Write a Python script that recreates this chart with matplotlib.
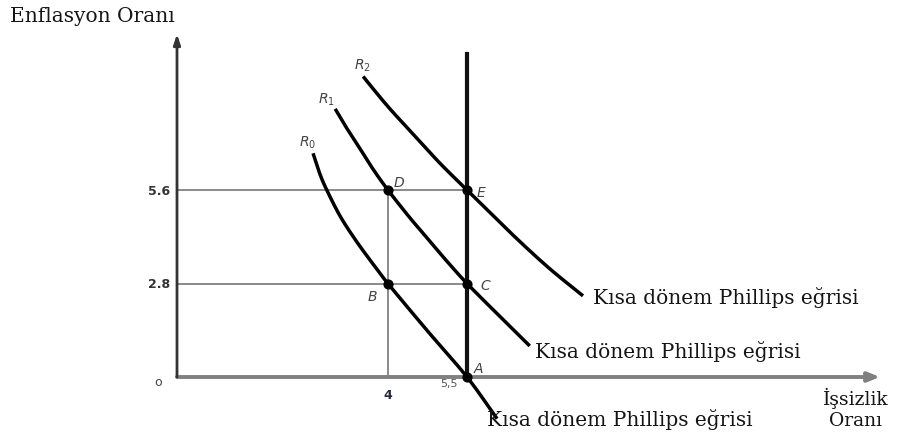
import matplotlib
matplotlib.use("Agg")
import matplotlib.pyplot as plt
import numpy as np

# ---- data ----
r0_x = [2.58, 2.70, 2.84, 3.10, 3.40, 3.70, 4.00, 4.75, 5.50, 6.07]
r0_y = [6.70, 6.12, 5.60, 4.80, 4.07, 3.42, 2.80, 1.38, 0.00, -1.25]
r1_x = [3.00, 3.20, 3.47, 3.72, 4.00, 4.40, 4.75, 5.10, 5.50, 6.10, 6.69]
r1_y = [8.03, 7.50, 6.84, 6.22, 5.60, 4.80, 4.15, 3.50, 2.80, 1.85, 0.93]
r2_x = [3.53, 4.00, 4.55, 5.00, 5.50, 6.00, 6.56, 7.10, 7.70]
r2_y = [9.00, 8.10, 7.15, 6.38, 5.60, 4.82, 3.97, 3.20, 2.43]
lr_x = 5.5
lr_top = 9.67
pt_names = ["A", "B", "C", "D", "E"]
pt_x = [5.5, 4.0, 5.5, 4.0, 5.5]
pt_y = [0.0, 2.8, 2.8, 5.6, 5.6]
y_ticks = [5.6, 2.8]
y_tick_labels = ["5.6", "2.8"]
curve_label = "Kısa dönem Phillips eğrisi"


def smooth(xs, ys, n=20):
    """Catmull-Rom spline through the given points (for drawing only)."""
    p = np.column_stack([xs, ys]).astype(float)
    p = np.vstack([2 * p[0] - p[1], p, 2 * p[-1] - p[-2]])
    out = []
    t = np.linspace(0, 1, n, endpoint=False)[:, None]
    for i in range(1, len(p) - 2):
        p0, p1, p2, p3 = p[i - 1], p[i], p[i + 1], p[i + 2]
        seg = 0.5 * ((2 * p1) + (-p0 + p2) * t + (2 * p0 - 5 * p1 + 4 * p2 - p3) * t ** 2
                     + (-p0 + 3 * p1 - 3 * p2 + p3) * t ** 3)
        out.append(seg)
    out.append(p[-2][None, :])
    out = np.vstack(out)
    return out[:, 0], out[:, 1]


W, H = 903, 439
fig = plt.figure(figsize=(W / 100, H / 100), dpi=100)
x0, y0, x1, y1 = 177, 378, 880, 35
ax = fig.add_axes([x0 / W, (H - y0) / H, (x1 - x0) / W, (y0 - y1) / H])
XMAX = (x1 - x0) / 52.73
YMAX = (y0 - y1) / 33.39
ax.set_xlim(0, XMAX)
ax.set_ylim(0, YMAX)
ax.axis("off")

# guide lines
grid_c = "#8a8a8a"
ax.plot([0, 5.5], [5.6, 5.6], color=grid_c, lw=1.4, clip_on=False)
ax.plot([0, 5.5], [2.8, 2.8], color=grid_c, lw=1.4, clip_on=False)
ax.plot([4, 4], [0, 5.6], color=grid_c, lw=1.4, clip_on=False)

# axes arrows
ax.annotate("", xy=(XMAX, 0), xytext=(0, 0),
            arrowprops=dict(arrowstyle="-|>,head_length=0.7,head_width=0.28",
                            color="#808080", lw=2.8, shrinkA=0, shrinkB=0),
            annotation_clip=False)
ax.annotate("", xy=(0, YMAX), xytext=(0, 0),
            arrowprops=dict(arrowstyle="-|>,head_length=0.6,head_width=0.2",
                            color="#333333", lw=2.0, shrinkA=0, shrinkB=0),
            annotation_clip=False)

# long-run vertical
ax.plot([lr_x, lr_x], [0, lr_top], color="#111111", lw=3.0, clip_on=False)

# curves
for xs, ys in [(r0_x, r0_y), (r1_x, r1_y), (r2_x, r2_y)]:
    sx, sy = smooth(xs, ys)
    ax.plot(sx, sy, color="black", lw=2.5, clip_on=False,
            solid_capstyle="butt", solid_joinstyle="round")

ax.scatter(pt_x, pt_y, s=40, color="black", zorder=5, clip_on=False)

# point letters
lab_kw = dict(fontsize=10, style="italic", color="#444444",
              family="DejaVu Sans", ha="center", va="center")
pt_lab_pos = {"A": (5.71, 0.27), "B": (3.70, 2.43), "C": (5.84, 2.76),
              "D": (4.21, 5.84), "E": (5.77, 5.54)}
for n in pt_names:
    ax.text(*pt_lab_pos[n], n, **lab_kw)

ax.text(2.48, 7.03, r"$R_0$", fontsize=10, color="#444444", ha="center", va="center")
ax.text(2.84, 8.33, r"$R_1$", fontsize=10, color="#444444", ha="center", va="center")
ax.text(3.51, 9.34, r"$R_2$", fontsize=10, color="#444444", ha="center", va="center")

# tick labels
for v, s in zip(y_ticks, y_tick_labels):
    ax.text(-0.13, v, s, fontsize=9, fontweight="bold", color="#333333",
            ha="right", va="center", family="DejaVu Sans")
ax.text(-0.36, -0.12, "o", fontsize=9, color="#444444", ha="center", va="center")
ax.text(4.0, -0.52, "4", fontsize=9, fontweight="bold", color="#2a2a44",
        ha="center", va="center")
ax.text(5.15, -0.18, "5,5", fontsize=8, color="#555555", ha="center", va="center")

# text labels (pixel positions)
tc = "#151515"
serif = "DejaVu Serif"
fs = 14.5
fig.text(593 / W, 1 - 298 / H, curve_label, fontsize=fs, family=serif, color=tc,
         ha="left", va="center")
fig.text(535 / W, 1 - 352 / H, curve_label, fontsize=fs, family=serif, color=tc,
         ha="left", va="center")
fig.text(487 / W, 1 - 420 / H, curve_label, fontsize=fs, family=serif, color=tc,
         ha="left", va="center")
fig.text(10 / W, 1 - 16 / H, "Enflasyon Oranı", fontsize=fs, family=serif, color=tc,
         ha="left", va="center")
fig.text(856 / W, 1 - 398 / H, "İşsizlik", fontsize=13.5, family=serif, color=tc,
         ha="center", va="center")
fig.text(856 / W, 1 - 421 / H, "Oranı", fontsize=13.5, family=serif, color=tc,
         ha="center", va="center")

fig.savefig("out.png", dpi=100)
